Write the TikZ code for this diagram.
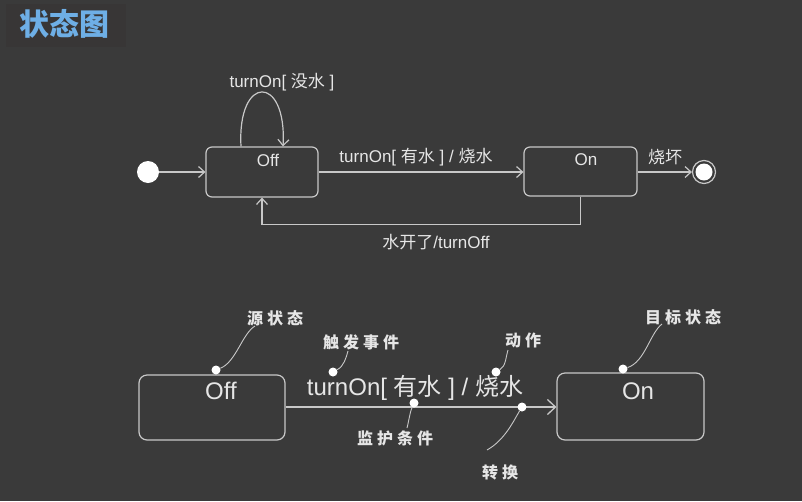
\documentclass[tikz,border=0pt]{standalone}
\usepackage{fontspec}
\setmainfont{Liberation Sans}
\newfontfamily\cjk{Noto Sans CJK SC}
\newfontfamily\cjkann[LetterSpace=25]{Noto Sans CJK SC}
\usetikzlibrary{arrows.meta}
\definecolor{bgc}{RGB}{58,58,58}
\definecolor{linec}{RGB}{200,200,200}
\definecolor{txtc}{RGB}{230,230,230}
\definecolor{titlec}{RGB}{110,175,230}
\tikzset{
  statebox/.style={draw=linec, line width=1.2pt, rounded corners=6pt, inner sep=0pt},
  txt/.style={text=txtc, inner sep=1pt, font=\fontsize{17}{20}\selectfont},
  bigtxt/.style={text=txtc, inner sep=1pt, font=\fontsize{24}{28}\selectfont},
  anntxt/.style={text=txtc, inner sep=1pt, font=\cjkann\bfseries\fontsize{16}{19}\selectfont},
  arr/.style={draw=linec, line width=1.2pt, -{Straight Barb[length=6pt,width=11pt]}},
  bigarr/.style={draw=linec, line width=1.3pt, -{Straight Barb[length=8pt,width=15pt]}},
  anndot/.style={circle, fill=white, minimum size=9pt, inner sep=0pt},
  leader/.style={draw=linec, line width=0.9pt},
}
\begin{document}
\begin{tikzpicture}[x=1pt,y=-1pt]
\fill[bgc] (0,0) rectangle (802,501);
\useasboundingbox (0,0) rectangle (802,501);
\fill[RGB/.code={},fill={rgb,255:red,56;green,54;blue,54}] (6,4) rectangle (126,47);
\node[text=titlec, font=\cjk\bfseries\fontsize{30}{34}\selectfont, inner sep=0pt] (title) at (64,24) {状态图};

% ---------- top diagram ----------
\node[circle, fill=white, minimum size=22pt, inner sep=0pt] (init) at (148,172) {};
\node[statebox, minimum width=112pt, minimum height=50pt] (off1) at (262,172) {};
\node[txt] (offtxt1) at (268,160) {Off};
\node[statebox, minimum width=113pt, minimum height=49pt] (on1) at (580.5,171.5) {};
\node[txt] (ontxt1) at (586,160) {On};
\node[circle, draw=linec, line width=1.2pt, minimum size=23pt, inner sep=0pt] (fin) at (704,172) {};
\fill[white] (fin.center) circle (8.5pt);

\draw[arr] (init) -- (off1.west |- init);
\draw[arr] ([xshift=-21pt]off1.north) .. controls (237,74) and (287,74) .. ([xshift=21pt]off1.north);
\node[txt] (loopl) at (282,82) {turnOn[ {\cjk 没水} ]};
\draw[arr] (off1.east |- init) -- (on1.west |- init);
\node[txt] (offonl) at (416,157) {turnOn[ {\cjk 有水} ] / {\cjk 烧水}};
\draw[arr] (on1.east |- fin) -- (fin.west);
\node[txt] (brk) at (665,157) {\cjk 烧坏};
\draw[arr] (on1.south) -- ++(0,28) -| (off1.south);
\node[txt] (retl) at (436,242) {{\cjk 水开了}/turnOff};

% ---------- bottom diagram ----------
\node[statebox, minimum width=146pt, minimum height=65pt, rounded corners=8pt] (off2) at (212,407.5) {};
\node[bigtxt] (offtxt2) at (221,391) {Off};
\node[statebox, minimum width=147pt, minimum height=67pt, rounded corners=8pt] (on2) at (630.5,406.5) {};
\node[bigtxt] (ontxt2) at (638,391) {On};
\draw[bigarr] (off2.east |- 0,407) -- (on2.west |- 0,407);
\node[bigtxt] (mainl) at (415,388) {turnOn[ {\cjk 有水} ] / {\cjk 烧水}};

% annotations
\node[anndot] (d1) at (216,370) {};
\node[anntxt] (a1) at (275,318) {源状态};
\coordinate (e1) at (255,326);
\draw[leader] (d1) .. controls (236,362) and (242,334) .. (e1);

\node[anndot] (d2) at (333,372) {};
\node[anntxt] (a2) at (361,342) {触发事件};
\coordinate (e2) at (348,351);
\draw[leader] (d2) .. controls (344,366) and (346,358) .. (e2);

\node[anndot] (d3) at (414,403) {};
\node[anntxt] (a3) at (395,438) {监护条件};
\coordinate (e3) at (407,428);
\draw[leader] (d3) .. controls (410,412) and (409,420) .. (e3);

\node[anndot] (d4) at (496,372) {};
\node[anntxt] (a4) at (523,340) {动作};
\coordinate (e4) at (508,350);
\draw[leader] (d4) .. controls (506,366) and (506,356) .. (e4);

\node[anndot] (d5) at (522,407) {};
\node[anntxt] (a5) at (500,472) {转换};
\coordinate (e5) at (487,450);
\draw[leader] (d5) .. controls (514,420) and (505,440) .. (e5);

\node[anndot] (d6) at (623,369) {};
\node[anntxt] (a6) at (683,317) {目标状态};
\coordinate (e6) at (662,324);
\draw[leader] (d6) .. controls (645,362) and (650,333) .. (e6);
\end{tikzpicture}
\end{document}
